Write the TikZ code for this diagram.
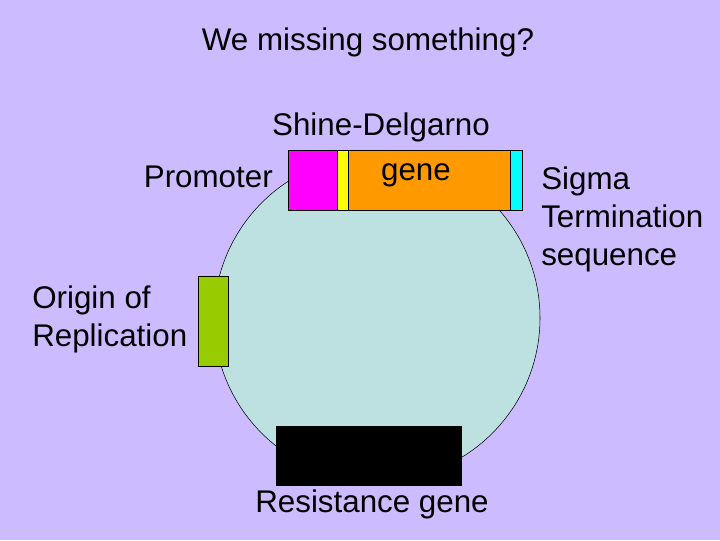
\documentclass[tikz,border=0pt]{standalone}
\usepackage{fontspec}
\setmainfont{Liberation Sans}
\begin{document}
\begin{tikzpicture}[x=0.75pt,y=-0.75pt,
  lbl/.style={font=\fontsize{23.5}{28.5}\selectfont, inner sep=0pt},
  bar/.style={draw=black, line width=0.4pt}]
\definecolor{bg}{HTML}{CCBBFF}
\definecolor{plasmid}{HTML}{BDE0E0}
\definecolor{ori}{HTML}{99CC00}
\definecolor{orng}{HTML}{FF9900}
\definecolor{mag}{HTML}{FF00FF}
\definecolor{yel}{HTML}{FFFF00}
\definecolor{cyn}{HTML}{00FFFF}
\fill[bg] (0,0) rectangle (720,540);
\useasboundingbox (0,0) rectangle (720,540);
\draw[fill=plasmid] (377,318) circle[radius=163];
\node[bar, fill=mag, minimum width=36.75pt, minimum height=45pt, inner sep=0pt, anchor=north west] (prom) at (288,150) {};
\node[bar, fill=yel, minimum width=8.25pt, minimum height=45pt, inner sep=0pt, anchor=north west] (sd) at (337,150) {};
\node[bar, fill=orng, minimum width=121.5pt, minimum height=45pt, inner sep=0pt, anchor=north west] (gene) at (348,150) {};
\node[bar, fill=cyn, minimum width=9pt, minimum height=45pt, inner sep=0pt, anchor=north west] (term) at (510,150) {};
\node[bar, fill=ori, minimum width=22.5pt, minimum height=67.5pt, inner sep=0pt, anchor=north west] (orib) at (198,276) {};
\node[fill=black, minimum width=139.5pt, minimum height=45pt, inner sep=0pt, anchor=north west] (res) at (276,426) {};
\node[lbl] (title) at (368,42) {We missing something?};
\node[lbl] (sdl) at (381,127) {Shine-Delgarno};
\node[lbl, anchor=east] (proml) at (273,177) {Promoter};
\node[lbl] (genel) at (416,175) {gene};
\node[lbl, anchor=north west, align=left] (terml) at (541,167) {Sigma\\Termination\\sequence};
\node[lbl, anchor=north west, align=left] (oril) at (32,286) {Origin of\\Replication};
\node[lbl] (resl) at (372,504) {Resistance gene};
\end{tikzpicture}
\end{document}
